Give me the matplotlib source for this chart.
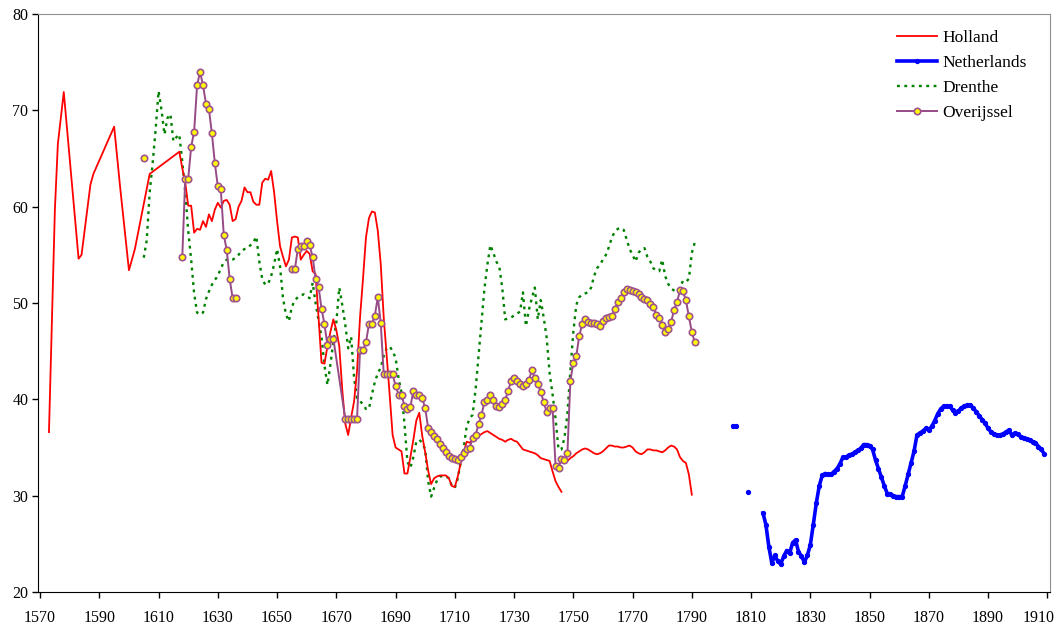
import numpy as np
import matplotlib
matplotlib.use("Agg")
from matplotlib import pyplot as plt
from matplotlib.transforms import ScaledTranslation

# Holland: scattered early estimates, then yearly runs
holland_early_years = [1573, 1575, 1576, 1578, 1583, 1584, 1587, 1588, 1595, 1597, 1600, 1602, 1607]
holland_early = [36.6, 59.7, 66.5, 71.9, 54.6, 55.0, 62.3, 63.4, 68.3, 62.1, 53.4, 55.6, 63.4]
holland_a_start = 1617
holland_a = [
    65.7, 64.0, 62.5,
    60.1, 60.1, 57.3, 57.7, 57.6, 58.5, 57.9, 59.2, 58.5, 59.7,
    60.4, 59.9, 60.6, 60.7, 60.2, 58.5, 58.7, 60.0, 60.6, 62.0,
    61.5, 61.5, 60.5, 60.2, 60.2, 62.5, 62.9, 62.8, 63.7, 61.5,
    58.5, 55.9, 54.8, 53.8, 54.5, 56.8, 56.9, 56.8, 54.5, 55.0,
    55.4, 55.1, 53.3, 53.0, 48.5, 43.8, 43.7, 45.5, 47.0, 48.3,
    47.2, 45.5, 41.0, 37.5, 36.3, 38.1, 39.8, 43.0, 48.5, 52.5,
    56.8, 58.8, 59.5, 59.4, 57.5, 54.0, 48.5, 44.5, 40.5, 36.3,
    35.0, 34.8, 34.6, 32.3, 32.3, 34.0, 35.8, 37.8, 38.6, 36.2,
    34.5, 32.6, 31.2, 31.8, 32.0, 32.1, 32.1, 32.1, 31.8, 31.0,
    30.9, 32.0, 33.4, 34.5, 35.6, 35.5, 35.8, 36.0, 36.2, 36.4,
    36.6, 36.7, 36.5, 36.3, 36.1, 35.9, 35.8, 35.6, 35.8, 35.9,
    35.7, 35.6, 35.2, 34.8, 34.7, 34.6, 34.5, 34.4, 34.2, 33.9,
    33.8, 33.7, 33.6, 32.5, 31.5, 30.9, 30.4,
]
holland_b_start = 1748
holland_b = [
    33.6, 33.9,
    34.1, 34.4, 34.6, 34.8, 34.9, 34.8, 34.6, 34.4, 34.3, 34.4,
    34.6, 34.9, 35.2, 35.2, 35.1, 35.1, 35.0, 35.0, 35.1, 35.2,
    35.0, 34.6, 34.4, 34.3, 34.5, 34.8, 34.8, 34.7, 34.7, 34.6,
    34.5, 34.7, 35.0, 35.2, 35.1, 34.8, 34.0, 33.6, 33.4, 32.2,
    30.1,
]

# Netherlands
nl_early_years = [1804, 1805]
nl_early = [37.2, 37.2]
nl_single_years = [1809]
nl_single = [30.4]
nl_start = 1814
nl = [
    28.2, 27.0, 24.7, 23.0, 23.8, 23.2,
    22.9, 23.7, 24.3, 24.0, 25.1, 25.4, 24.2, 23.7, 23.1, 23.8,
    24.9, 27.0, 29.2, 31.0, 32.1, 32.3, 32.2, 32.2, 32.5, 32.8,
    33.3, 34.0, 34.0, 34.2, 34.3, 34.5, 34.7, 34.9, 35.3, 35.3,
    35.2, 34.8, 33.7, 32.8, 31.9, 31.0, 30.2, 30.2, 30.0, 29.9,
    29.9, 29.9, 31.0, 32.2, 33.4, 34.6, 36.3, 36.5, 36.7, 37.0,
    36.8, 37.2, 37.8, 38.5, 39.0, 39.3, 39.3, 39.3, 38.9, 38.6,
    38.8, 39.1, 39.3, 39.4, 39.4, 39.1, 38.7, 38.3, 37.9, 37.5,
    37.0, 36.6, 36.4, 36.3, 36.3, 36.4, 36.6, 36.8, 36.3, 36.5,
    36.4, 36.1, 36.0, 35.9, 35.8, 35.6, 35.5, 35.1, 34.8, 34.3,
]

# Drenthe
drenthe_start = 1605
drenthe = [
    54.7, 56.5, 61.5, 64.5, 68.0,
    72.0, 70.0, 67.5, 69.2, 69.6, 66.8, 67.2, 67.5, 64.7, 61.5,
    57.5, 54.5, 51.0, 49.0, 48.8, 49.0, 50.4, 51.2, 51.9, 52.4,
    52.8, 53.6, 54.2, 54.5, 54.4, 54.5, 54.7, 55.0, 55.4, 55.6,
    55.7, 56.0, 56.3, 56.9, 54.3, 52.5, 51.9, 52.0, 52.8, 54.0,
    55.6, 53.8, 50.5, 48.8, 48.1, 49.6, 50.3, 50.6, 50.8, 50.9,
    50.7, 50.5, 52.1, 50.0, 48.2, 46.5, 43.5, 41.5, 43.6, 46.0,
    48.0, 51.6, 49.8, 47.8, 45.3, 46.5, 42.2, 40.1, 39.8, 39.5,
    39.0, 39.0, 40.5, 41.8, 42.7, 43.3, 44.5, 45.3, 45.5, 45.0,
    44.3, 42.2, 40.7, 37.5, 33.5, 32.9, 34.0, 35.6, 35.8, 35.5,
    34.8, 31.5, 29.9, 30.8, 31.6, 32.0, 32.0, 32.0, 31.8, 31.0,
    30.8, 31.8, 33.5, 35.0, 37.2, 38.0, 38.4, 41.0, 44.5, 48.0,
    51.5, 54.0, 56.0, 55.2, 54.3, 53.8, 51.6, 48.3, 48.4, 48.5,
    48.7, 48.9, 49.1, 51.1, 47.6, 49.3, 50.5, 51.6, 48.3, 50.3,
    48.5, 46.4, 42.7, 40.5, 38.0, 34.8, 34.8, 36.0, 38.5, 43.0,
    47.0, 49.8, 50.6, 50.9, 51.0, 51.1, 51.6, 52.8, 53.6, 54.0,
    54.5, 55.0, 55.8, 56.8, 57.4, 57.7, 57.8, 57.6, 56.6, 55.6,
    55.0, 54.3, 55.2, 55.6, 55.7, 54.8, 54.3, 53.6, 53.4, 53.3,
    54.5, 52.8, 52.0, 51.5, 51.3, 51.2, 51.6, 52.3, 52.2, 52.5,
    55.2, 56.3,
]

# Overijssel
ovr_single_years = [1605]
ovr_single = [65.1]
ovr_a_start = 1618
ovr_a = [54.8, 62.9, 62.9, 66.2, 67.8, 72.6, 74.0, 72.6, 70.7, 70.1,
         67.6, 64.5, 62.1, 61.8, 57.1, 55.5, 52.5, 50.5, 50.5]
ovr_b_start = 1655
ovr_b = [53.5, 53.5, 55.6, 55.9, 55.9, 56.4, 56.0, 54.8, 52.5, 51.7,
         49.4, 47.8, 45.6, 46.3, 46.3]
ovr_c_start = 1673
ovr_c = [
    38.0, 38.0, 38.0, 38.0, 38.0, 45.1, 45.1,
    45.9, 47.8, 47.8, 48.7, 50.6, 47.9, 42.6, 42.6, 42.6, 42.6,
    41.4, 40.5, 40.5, 39.3, 39.0, 39.2, 40.9, 40.4, 40.5, 40.1,
    39.1, 37.0, 36.6, 36.2, 35.9, 35.4, 34.9, 34.5, 34.1, 33.9,
    33.8, 33.7, 34.0, 34.4, 34.8, 34.9, 36.0, 36.3, 37.4, 38.4,
    39.7, 39.9, 40.4, 39.9, 39.3, 39.2, 39.5, 39.9, 40.9, 41.9,
    42.2, 41.9, 41.6, 41.4, 41.6, 42.0, 43.0, 42.2, 41.6, 40.8,
    39.7, 38.7, 39.1, 39.1, 33.1, 32.9, 33.8, 33.7, 34.4, 41.9,
    43.8, 44.5, 46.6, 47.8, 48.3, 48.0, 47.9, 47.9, 47.8, 47.6,
    48.1, 48.4, 48.5, 48.6, 49.4, 50.1, 50.5, 51.1, 51.5, 51.3,
    51.2, 51.1, 50.9, 50.6, 50.4, 50.3, 49.9, 49.6, 48.8, 48.4,
    47.7, 47.0, 47.3, 48.0, 49.3, 50.1, 51.3, 51.2, 50.3, 48.6,
    47.0, 45.9,
]

x_ticks = list(range(1570, 1911, 20))
y_ticks = [20, 30, 40, 50, 60, 70, 80]


def run(start, values):
    return np.arange(start, start + len(values)), np.array(values)


def join(*parts):
    # parts are (years, values); NaN between parts breaks the line
    xs, ys = [], []
    for i, (x, y) in enumerate(parts):
        if i:
            xs.append([np.nan])
            ys.append([np.nan])
        xs.append(np.asarray(x, float))
        ys.append(np.asarray(y, float))
    return np.concatenate(xs), np.concatenate(ys)


plt.rcParams['font.family'] = ['Liberation Serif', 'DejaVu Serif']

fig = plt.figure(figsize=(10.6, 6.28), dpi=100)
ax = fig.add_axes([38 / 1060, 36 / 628, 1012 / 1060, 578 / 628])

# Holland
ha_x, ha_y = run(holland_a_start, holland_a)
hb_x, hb_y = run(holland_b_start, holland_b)
h_x = np.concatenate([holland_early_years, ha_x])
h_y = np.concatenate([holland_early, ha_y])
hx, hy = join((h_x, h_y), (hb_x, hb_y))

# Netherlands
nx, ny = join((nl_early_years, nl_early), (nl_single_years, nl_single), run(nl_start, nl))

# Drenthe
dx, dy = run(drenthe_start, drenthe)

# Overijssel: 1669 -> 1673 is bridged by the line, other gaps are not
ob_x, ob_y = run(ovr_b_start, ovr_b)
oc_x, oc_y = run(ovr_c_start, ovr_c)
ox, oy = join((ovr_single_years, ovr_single), run(ovr_a_start, ovr_a),
              (np.concatenate([ob_x, oc_x]), np.concatenate([ob_y, oc_y])))

l_dr, = ax.plot(dx, dy, color='#008000', lw=1.7, linestyle=(0, (1.2, 1.9)), zorder=2, label='Drenthe')
l_ho, = ax.plot(hx, hy, color='#FF0000', lw=1.3, zorder=3, label='Holland')
l_nl, = ax.plot(nx, ny, color='#0000FF', lw=2.6, marker='o', markersize=2.8, zorder=3, label='Netherlands')
l_ov, = ax.plot(ox, oy, color='#964A86', lw=1.4, marker='o', markersize=4.6,
                markerfacecolor='#FFFF00', markeredgecolor='#A0528F', markeredgewidth=1.2,
                zorder=4, label='Overijssel')

ax.set_xlim(1569.3, 1910.9)
ax.set_ylim(20, 80)
ax.set_xticks(x_ticks)
ax.set_yticks(y_ticks)
ax.tick_params(axis='both', direction='out', length=4, width=1, labelsize=11.5, colors='black')
ax.tick_params(axis='x', pad=9)
ax.tick_params(axis='y', pad=3)
for side in ('top', 'right'):
    ax.spines[side].set_color('#909090')
for side in ('left', 'bottom'):
    ax.spines[side].set_color('black')

# keep the last year label inside the picture
last = ax.get_xticklabels()[-1]
last.set_transform(last.get_transform() + ScaledTranslation(-6 / 72, 0, fig.dpi_scale_trans))

leg = ax.legend(handles=[l_ho, l_nl, l_dr, l_ov], loc='upper left',
                bbox_to_anchor=(897 / 1060, 1 - 30 / 628), bbox_transform=fig.transFigure,
                frameon=False, fontsize=12.5, handlelength=2.3, handletextpad=0.3,
                labelspacing=0.5, borderpad=0, borderaxespad=0)

fig.savefig('out.png', dpi=100, facecolor='white')
